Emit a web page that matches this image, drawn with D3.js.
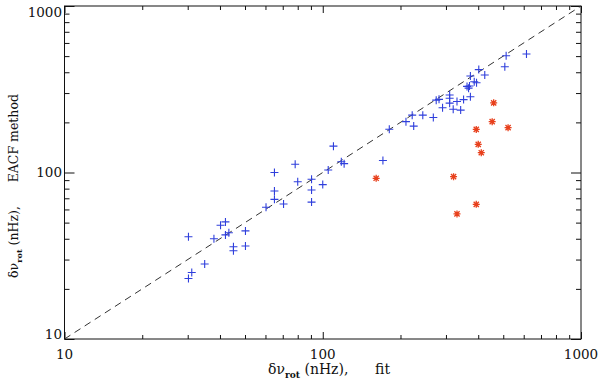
<!DOCTYPE html>
<html>
<head>
<meta charset="utf-8">
<script src="https://cdn.jsdelivr.net/npm/d3@7"></script>
<style>
  body { margin: 0; background: #fff; }
  svg { display: block; font-family: "DejaVu Serif", serif; }
</style>
</head>
<body>
<div id="chart"></div>
<script>
// delta nu_rot (nHz): fit (x) against EACF method (y)
const fitBlue = [30.2, 30.2, 31.1, 34.9, 37.9, 40.2, 42, 42, 43.3, 50.2, 45.1, 45.1, 50.2,
    60.3, 65, 65, 65, 70.5, 78.2, 80, 90.5, 90.5, 90.5, 100, 105, 110, 118, 121,
    171, 181, 210, 225, 222, 244, 268, 275, 282, 291, 310, 310, 310, 320, 331, 342, 351,
    373, 362, 367, 370, 373, 386, 394, 402, 424, 507, 513, 615]
const eacfBlue = [41.1, 23.1, 25.1, 28.2, 40, 48.2, 50.5, 42.2, 43.5, 44.6, 35.8, 33.9, 36.2,
    61.8, 100, 77.4, 69, 64.7, 112, 88, 91, 78.5, 66.4, 84.6, 103.5, 144, 116, 113,
    118, 182, 202, 190, 221, 221, 214, 272, 275, 245, 292, 279, 261, 240, 267, 237, 274,
    285, 329, 321, 331, 380, 351, 346, 415, 385, 432, 503, 515]
const fitRed = [161, 321, 331, 393, 393, 400, 411, 453, 459, 522]
const eacfRed = [92.3, 94.4, 56.4, 64.4, 181.5, 147.6, 131.5, 202, 262, 186]

const majorTicks = [10, 100, 1000]
const minorTicks = [20, 30, 40, 50, 60, 70, 80, 90, 200, 300, 400, 500, 600, 700, 800, 900]

const width = 600
const height = 380
const margin = { top: 6, right: 19, bottom: 41, left: 64.5 }

const svg = d3.select('#chart').append('svg')
    .attr('width', width)
    .attr('height', height)

const x = d3.scaleLog()
    .domain([10, 1000])
    .range([margin.left, width - margin.right])

const y = d3.scaleLog()
    .domain([10, 1000])
    .range([height - margin.bottom, margin.top])

const x0 = x.range()[0], x1 = x.range()[1]
const y0 = y.range()[0], y1 = y.range()[1]

// frame
svg.append('rect')
    .attr('x', x0)
    .attr('y', y1)
    .attr('width', x1 - x0)
    .attr('height', y0 - y1)
    .attr('fill', 'none')
    .attr('stroke', '#111')
    .attr('stroke-width', 1)

// inward ticks on all four sides
function ticks(axis, values, size, translate) {
    const g = svg.append('g')
        .attr('transform', translate)
        .call(axis.tickValues(values).tickSize(size).tickFormat(''))
    g.select('.domain').remove()
    g.selectAll('line').attr('stroke', '#111')
}
ticks(d3.axisBottom(x), majorTicks, -7, `translate(0,${y0})`)
ticks(d3.axisBottom(x), minorTicks, -4, `translate(0,${y0})`)
ticks(d3.axisTop(x), majorTicks, -7, `translate(0,${y1})`)
ticks(d3.axisTop(x), minorTicks, -4, `translate(0,${y1})`)
ticks(d3.axisLeft(y), majorTicks, -10, `translate(${x0},0)`)
ticks(d3.axisLeft(y), minorTicks, -5, `translate(${x0},0)`)
ticks(d3.axisRight(y), majorTicks, -10, `translate(${x1},0)`)
ticks(d3.axisRight(y), minorTicks, -5, `translate(${x1},0)`)

// tick labels
svg.append('g').selectAll('text')
    .data(majorTicks)
    .join('text')
    .attr('x', d => x(d))
    .attr('y', 359)
    .attr('text-anchor', 'middle')
    .attr('font-size', 13.5)
    .attr('fill', '#111')
    .text(d => d)

svg.append('g').selectAll('text')
    .data(majorTicks)
    .join('text')
    .attr('x', 62)
    .attr('y', d => Math.min(Math.max(y(d), 12), 334))
    .attr('dy', '0.36em')
    .attr('text-anchor', 'end')
    .attr('font-size', 13.5)
    .attr('fill', '#111')
    .text(d => d)

// axis titles
function title(g, size, tail) {
    const t = g.append('text')
        .attr('font-size', size)
        .attr('fill', '#111')
        .attr('text-anchor', 'middle')
        .style('white-space', 'pre')
    t.append('tspan').text('δν')
    t.append('tspan').attr('dy', 4).attr('font-size', size * 0.65).attr('font-weight', 'bold').text('rot')
    t.append('tspan').attr('dy', -4).text(' (nHz),      ' + tail)
    return t
}
title(svg.append('g').attr('transform', 'translate(329,374)'), 14, 'fit')
title(svg.append('g').attr('transform', 'translate(18,186) rotate(-90)'), 12.5, 'EACF method')

// one-to-one line
svg.append('line')
    .attr('x1', x(10)).attr('y1', y(10))
    .attr('x2', x(1000)).attr('y2', y(1000))
    .attr('stroke', '#333')
    .attr('stroke-width', 1)
    .attr('stroke-dasharray', '7,5')

// blue pluses
svg.append('g').selectAll('path')
    .data(d3.zip(fitBlue, eacfBlue))
    .join('path')
    .attr('d', 'M-4,0H4M0,-4V4')
    .attr('transform', d => `translate(${x(d[0])},${y(d[1])})`)
    .attr('stroke', '#2f3fdc')
    .attr('stroke-width', 1.1)
    .attr('fill', 'none')

// red asterisks
svg.append('g').selectAll('path')
    .data(d3.zip(fitRed, eacfRed))
    .join('path')
    .attr('d', 'M-3.5,0H3.5M0,-3.5V3.5M-2.6,-2.6L2.6,2.6M-2.6,2.6L2.6,-2.6')
    .attr('transform', d => `translate(${x(d[0])},${y(d[1])})`)
    .attr('stroke', '#e8401c')
    .attr('stroke-width', 1.3)
    .attr('fill', 'none')
</script>
</body>
</html>
